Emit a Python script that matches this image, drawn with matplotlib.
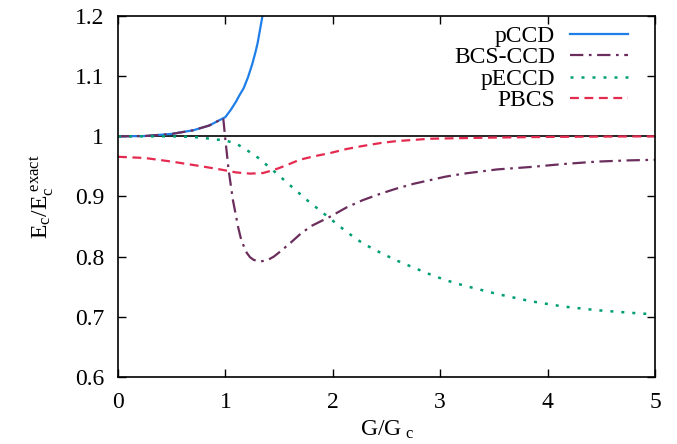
import numpy as np
import matplotlib
matplotlib.use('Agg')
from matplotlib import pyplot as plt
import matplotlib.ticker as ticker

plt.rcParams['font.family'] = 'Liberation Serif'
plt.rcParams['mathtext.fontset'] = 'custom'
plt.rcParams['mathtext.rm'] = 'Liberation Serif'
plt.rcParams['mathtext.it'] = 'Liberation Serif'

# values
pccd_x = [0, 0.25, 0.5, 0.7, 0.85, 1.0, 1.05, 1.1, 1.13, 1.17, 1.21, 1.25, 1.28, 1.3, 1.32,
          1.345, 1.37]
pccd_y = [1.0, 1.0005, 1.004, 1.01, 1.018, 1.032, 1.044, 1.058, 1.068, 1.08, 1.098, 1.12,
          1.14, 1.155, 1.175, 1.2, 1.225]

bcs_x = [0, 0.25, 0.5, 0.7, 0.85, 0.98, 1.0, 1.03, 1.07, 1.12, 1.15, 1.2, 1.23, 1.26, 1.29,
         1.32, 1.36, 1.4, 1.45, 1.5, 1.6, 1.7, 1.8, 1.97, 2.13, 2.28, 2.45, 2.59, 2.75, 2.9,
         3.05, 3.22, 3.53, 3.84, 4.15, 4.46, 4.75, 5.0]
bcs_y = [1.0, 1.0005, 1.004, 1.01, 1.018, 1.03, 0.994, 0.944, 0.894, 0.848, 0.826, 0.806,
         0.799, 0.795, 0.793, 0.792, 0.793, 0.795, 0.8, 0.807, 0.822, 0.838, 0.851, 0.866,
         0.882, 0.894, 0.905, 0.913, 0.921, 0.927, 0.933, 0.938, 0.945, 0.949, 0.954, 0.958,
         0.96, 0.961]

peccd_x = [0, 0.25, 0.5, 0.7, 0.86, 1.0, 1.1, 1.2, 1.3, 1.44, 1.6, 1.76, 1.97, 2.13, 2.28,
           2.45, 2.59, 2.75, 2.9, 3.05, 3.22, 3.53, 3.84, 4.15, 4.46, 4.75, 5.0]
peccd_y = [1.0, 1.0, 1.0, 0.999, 0.996, 0.993, 0.988, 0.977, 0.965, 0.944, 0.919, 0.894,
           0.864, 0.841, 0.822, 0.806, 0.794, 0.782, 0.771, 0.761, 0.752, 0.738, 0.726,
           0.717, 0.711, 0.707, 0.704]

pbcs_x = [0, 0.25, 0.5, 0.75, 0.95, 1.1, 1.23, 1.35, 1.45, 1.57, 1.69, 1.83, 1.97, 2.13,
          2.28, 2.45, 2.59, 2.75, 2.9, 3.2, 3.53, 4.0, 4.5, 5.0]
pbcs_y = [0.966, 0.964, 0.958, 0.951, 0.945, 0.94, 0.938, 0.939, 0.944, 0.952, 0.961,
          0.967, 0.972, 0.979, 0.984, 0.989, 0.992, 0.994, 0.996, 0.997, 0.998, 0.999,
          0.9995, 1.0]

fig = plt.figure(figsize=(6.77, 4.44), dpi=100)
ax = fig.add_axes([0.1743, 0.1509, 0.7932, 0.8131])

ax.axhline(1.0, color='black', lw=1.2, zorder=1)
ax.plot(pccd_x, pccd_y, '-', color='#1f7fe8', lw=1.6, label='pCCD')
ax.plot(bcs_x, bcs_y, color='#6b2d5c', lw=1.6, dashes=[6, 2.5, 1.2, 2.5], label='BCS-CCD')
ax.plot(peccd_x, peccd_y, color='#009e73', lw=1.8, dashes=[1.2, 3.2], label='pECCD')
ax.plot(pbcs_x, pbcs_y, color='#e52a50', lw=1.6, dashes=[4, 2.5], label='PBCS')

ax.set_xlim(0, 5)
ax.set_ylim(0.6, 1.2)
ax.xaxis.set_major_locator(ticker.MultipleLocator(1))
ax.yaxis.set_major_locator(ticker.MultipleLocator(0.1))
ax.yaxis.set_major_formatter(ticker.FormatStrFormatter('%g'))
ax.tick_params(direction='in', length=6, width=1, top=True, right=True, labelsize=17)
ax.tick_params(axis='y', pad=10)
ax.tick_params(axis='x', pad=11)
for s in ax.spines.values():
    s.set_linewidth(1.2)

ax.set_xlabel(r'G/G$_{\ \mathrm{c}}$', fontsize=17, labelpad=4)
ax.set_ylabel(r'E$_{\mathrm{c}}$/E$_{\mathrm{c}}^{\ \mathrm{exact}}$', fontsize=17, labelpad=14)

ax.legend(loc='upper right', frameon=False, markerfirst=False, fontsize=17,
          handlelength=2.45, handletextpad=0.64, labelspacing=0.0, borderpad=0,
          borderaxespad=0, bbox_to_anchor=(0.9497, 0.974))

plt.savefig('out.png', dpi=100)
plt.close()
